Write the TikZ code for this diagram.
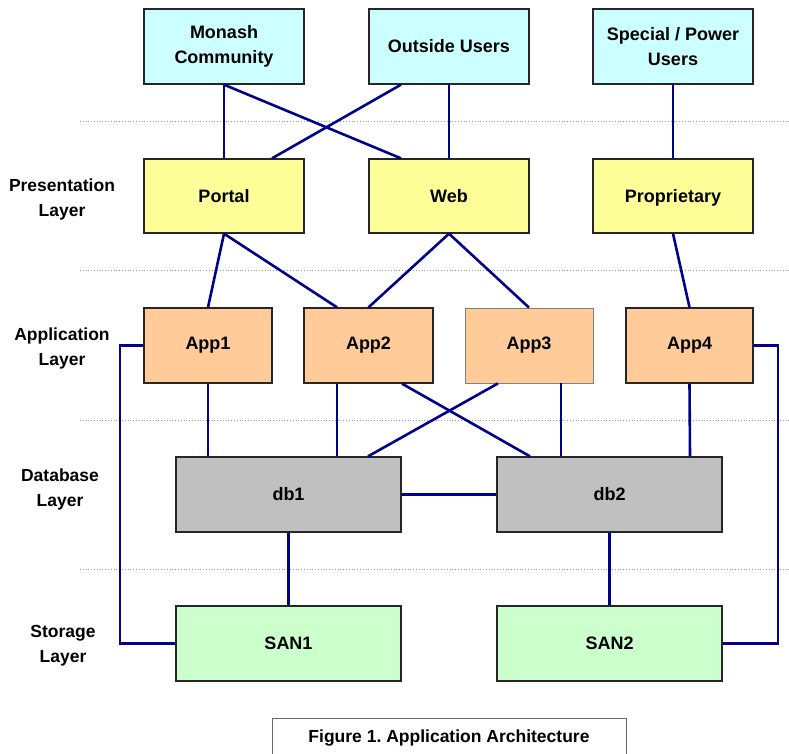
\documentclass[tikz,border=0pt]{standalone}
\usepackage{fontspec}
\setmainfont{Liberation Sans}
\begin{document}
\frenchspacing
\begin{tikzpicture}[x=1pt,y=-1pt,
  box/.style={draw=black!85,line width=1.3pt,font=\bfseries\fontsize{18}{25}\selectfont,align=center,inner sep=0pt},
  link/.style={draw=navyblue,line width=2.6pt},
  sep/.style={draw=black!40,line width=0.8pt,dotted},
  lab/.style={font=\bfseries\fontsize{17.5}{25}\selectfont,align=center}]
\definecolor{navyblue}{RGB}{0,0,140}
\definecolor{ucyan}{RGB}{204,255,255}
\definecolor{uyellow}{RGB}{255,255,153}
\definecolor{uorange}{RGB}{255,204,153}
\definecolor{ugray}{RGB}{192,192,192}
\definecolor{ugreen}{RGB}{204,255,204}
\useasboundingbox (0,0) rectangle (789,753);
% separators
\foreach \yy in {121,270,420,569} \draw[sep] (80,\yy) -- (789,\yy);
% users
\node[box,fill=ucyan,minimum width=160pt,minimum height=75pt] (mon) at (224,46.5) {Monash\\Community};
\node[box,fill=ucyan,minimum width=160pt,minimum height=75pt] (out) at (449,46.5) {Outside Users};
\node[box,fill=ucyan,minimum width=160pt,minimum height=75pt] (spe) at (673,46.5) {Special / Power\\Users};
% presentation
\node[box,fill=uyellow,minimum width=160pt,minimum height=74pt] (por) at (224,196) {Portal};
\node[box,fill=uyellow,minimum width=160pt,minimum height=74pt] (web) at (449,196) {Web};
\node[box,fill=uyellow,minimum width=160pt,minimum height=74pt] (pro) at (673,196) {\raisebox{0pt}[\height][0pt]{Proprietary}};
% apps
\node[box,fill=uorange,minimum width=128pt,minimum height=75pt] (a1) at (208,345.5) {App1};
\node[box,fill=uorange,minimum width=129pt,minimum height=75pt] (a2) at (368.5,345.5) {App2};
\node[box,fill=uorange,minimum width=128pt,minimum height=75pt,draw=black!50,line width=0.8pt] (a3) at (529,345.5) {App3};
\node[box,fill=uorange,minimum width=127pt,minimum height=75pt] (a4) at (689.5,345.5) {App4};
% dbs
\node[box,fill=ugray,minimum width=225pt,minimum height=75pt] (d1) at (288.5,494.5) {db1};
\node[box,fill=ugray,minimum width=225pt,minimum height=75pt] (d2) at (609.5,494.5) {db2};
% storage
\node[box,fill=ugreen,minimum width=225pt,minimum height=75pt] (s1) at (288.5,643.5) {SAN1};
\node[box,fill=ugreen,minimum width=225pt,minimum height=75pt] (s2) at (609.5,643.5) {SAN2};
% layer labels
\node[lab] (l1) at (62,199.5) {Presentation\\Layer};
\node[lab] (l2) at (62,348) {Application\\Layer};
\node[lab] (l3) at (60,489) {Database\\Layer};
\node[lab] (l4) at (63,646) {Storage\\Layer};
% caption
\node[draw=black!60,line width=0.8pt,minimum width=354pt,minimum height=40pt,inner sep=0pt,font=\bfseries\fontsize{17.5}{20}\selectfont] (cap) at (449,738) {Figure 1. Application Architecture};
% links users -> presentation
\draw[link] (mon.south) -- (por.north);
\draw[link] (mon.south) -- ([xshift=-48pt]web.north);
\draw[link] ([xshift=-48pt]out.south) -- ([xshift=48pt]por.north);
\draw[link] (out.south) -- (web.north);
\draw[link] (spe.south) -- (pro.north);
% presentation -> apps
\draw[link] (por.south) -- (a1.north);
\draw[link] (por.south) -- ([xshift=-31.5pt]a2.north);
\draw[link] (web.south) -- (a2.north);
\draw[link] (web.south) -- (a3.north);
\draw[link] (pro.south) -- (a4.north);
% apps -> db
\draw[link] (a1.south) -- ([xshift=-80.5pt]d1.north);
\draw[link] ([xshift=-31.5pt]a2.south) -- ([xshift=48.5pt]d1.north);
\draw[link] ([xshift=33.5pt]a2.south) -- ([xshift=-79.5pt]d2.north);
\draw[link] ([xshift=-31pt]a3.south) -- ([xshift=79.5pt]d1.north);
\draw[link] ([xshift=32pt]a3.south) -- ([xshift=-48.5pt]d2.north);
\draw[link] (a4.south) -- ([xshift=80.5pt]d2.north);
\draw[link] (d1.east) -- (d2.west);
% db -> storage
\draw[link] (d1.south) -- (s1.north);
\draw[link] (d2.south) -- (s2.north);
% side links
\draw[link] (a1.west) -| (120,643.5) -- (s1.west);
\draw[link] (a4.east) -| (778,643.5) -- (s2.east);
\end{tikzpicture}
\end{document}
